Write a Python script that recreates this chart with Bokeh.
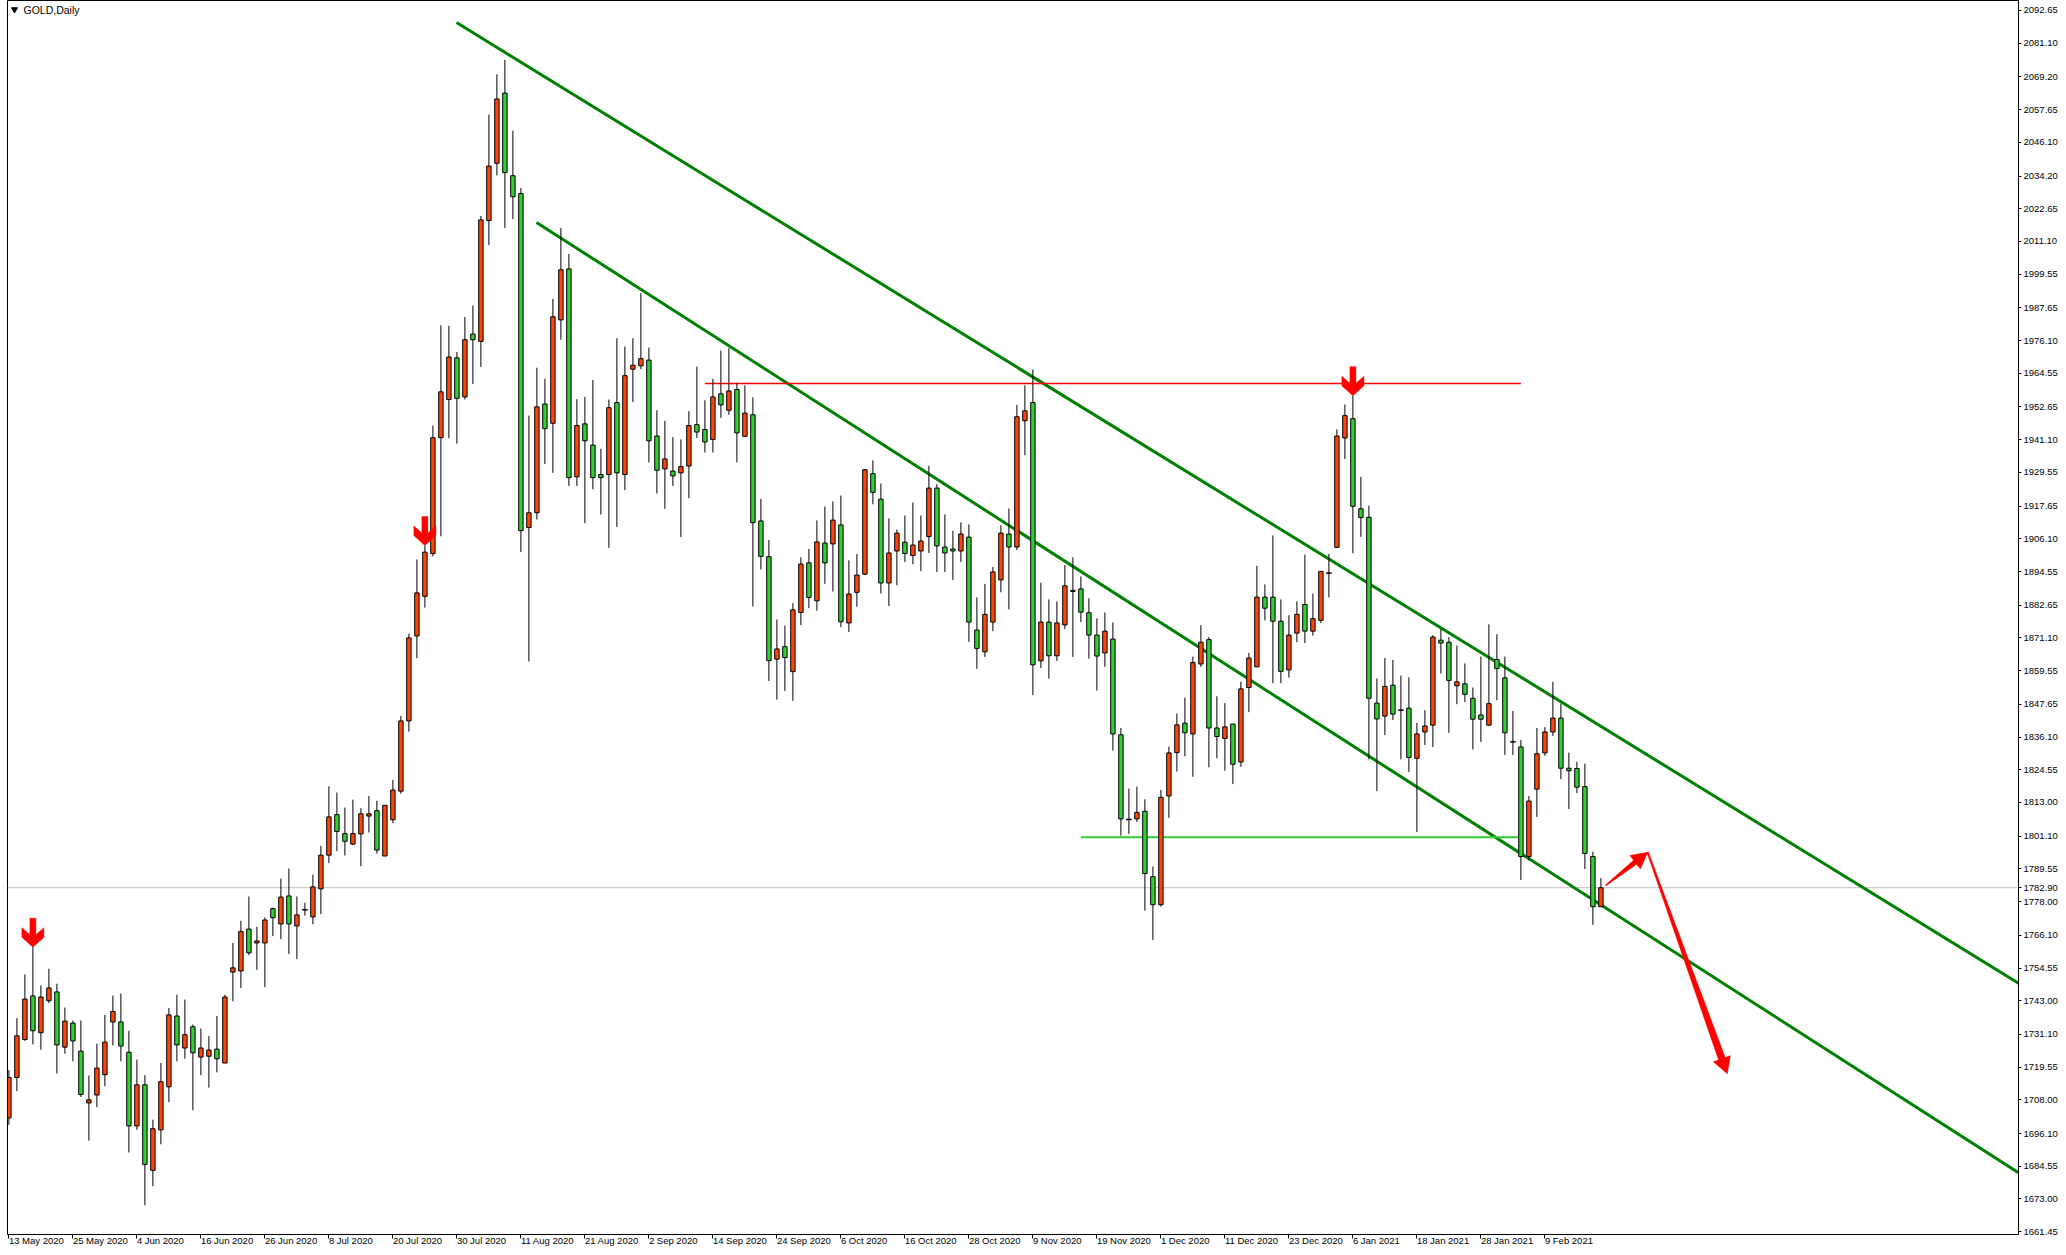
import math
from bokeh.plotting import figure
from bokeh.models import FixedTicker, PrintfTickFormatter, Range1d
from bokeh.embed import file_html
from bokeh.resources import INLINE
from bokeh.core.properties import value

# ---------------- data (GOLD daily, 13 May 2020 .. 18 Feb 2021) ----------------
OPEN = [1701.6, 1715.9, 1729.3, 1744.7, 1731.7, 1743.0, 1746.1, 1726.6, 1735.1, 1725.2,
        1706.9, 1709.7, 1716.9, 1735.5, 1735.5, 1724.8, 1698.8, 1713.3, 1683.1, 1697.4,
        1712.6, 1737.6, 1726.3, 1733.8, 1723.1, 1723.4, 1725.9, 1721.0, 1753.1, 1753.5,
        1768.3, 1763.4, 1763.4, 1775.5, 1770.1, 1780.0, 1769.4, 1775.1, 1772.6, 1782.5,
        1794.4, 1808.7, 1802.0, 1798.3, 1801.9, 1808.2, 1810.1, 1794.1, 1806.9, 1817.0,
        1841.8, 1871.8, 1885.8, 1900.9, 1941.8, 1955.3, 1970.0, 1956.2, 1978.4, 1975.8,
        2018.5, 2038.7, 2063.5, 2034.3, 2028.0, 1910.1, 1915.3, 1953.7, 1946.9, 1983.4,
        2001.4, 1928.0, 1946.7, 1939.2, 1928.8, 1928.8, 1954.2, 1928.8, 1966.0, 1967.2,
        1969.2, 1942.4, 1930.8, 1930.0, 1929.4, 1931.8, 1946.4, 1944.7, 1941.2, 1957.3,
        1951.5, 1958.8, 1942.3, 1949.9, 1912.4, 1899.8, 1863.6, 1868.0, 1859.2, 1880.1,
        1897.6, 1884.2, 1904.6, 1904.3, 1911.0, 1876.4, 1887.2, 1893.6, 1929.1, 1920.1,
        1890.5, 1901.8, 1904.9, 1900.2, 1901.8, 1906.9, 1924.0, 1903.2, 1902.5, 1901.8,
        1906.7, 1873.9, 1866.2, 1876.7, 1891.6, 1907.8, 1903.2, 1947.8, 1954.2, 1863.0,
        1876.7, 1864.8, 1875.7, 1887.9, 1888.4, 1880.0, 1872.1, 1865.8, 1870.7, 1836.9,
        1807.0, 1807.2, 1809.9, 1786.8, 1776.9, 1815.3, 1830.6, 1841.0, 1837.2, 1861.9,
        1870.5, 1839.3, 1835.6, 1840.7, 1827.3, 1853.6, 1860.9, 1885.5, 1885.5, 1877.0,
        1859.8, 1872.8, 1882.9, 1873.5, 1877.3, 1894.0, 1903.1, 1941.7, 1948.5, 1916.7,
        1913.7, 1848.1, 1843.5, 1854.4, 1845.6, 1846.3, 1828.6, 1837.9, 1840.3, 1870.3,
        1869.6, 1854.2, 1854.9, 1849.8, 1843.9, 1840.3, 1863.5, 1857.0, 1834.4, 1832.6,
        1793.9, 1817.7, 1830.5, 1837.9, 1842.8, 1825.1, 1825.0, 1818.6, 1793.9, 1776.2]
HIGH = [1718.5, 1736.8, 1752.3, 1761.9, 1748.4, 1754.3, 1749.0, 1740.6, 1736.0, 1736.0,
        1716.6, 1727.8, 1738.0, 1744.8, 1745.5, 1732.4, 1722.2, 1716.7, 1701.0, 1721.0,
        1740.4, 1745.1, 1743.4, 1734.6, 1733.2, 1730.6, 1737.6, 1745.1, 1763.4, 1771.2,
        1779.8, 1769.1, 1772.4, 1775.9, 1786.1, 1789.7, 1779.8, 1777.6, 1787.5, 1797.7,
        1818.7, 1816.5, 1811.2, 1814.0, 1811.0, 1815.3, 1813.6, 1812.0, 1821.0, 1843.6,
        1872.6, 1898.8, 1903.7, 1946.1, 1981.5, 1981.3, 1972.1, 1984.4, 1988.5, 2020.1,
        2055.9, 2070.1, 2075.2, 2050.2, 2030.0, 1949.6, 1966.5, 1962.6, 1990.8, 2015.9,
        2006.7, 1955.4, 1956.2, 1962.2, 1937.9, 1955.3, 1976.9, 1974.0, 1976.9, 1992.9,
        1973.6, 1951.5, 1947.8, 1942.0, 1941.2, 1951.2, 1966.9, 1955.0, 1962.6, 1972.6,
        1973.4, 1961.1, 1960.3, 1956.1, 1920.2, 1905.7, 1877.6, 1875.5, 1883.4, 1899.6,
        1902.5, 1912.6, 1917.5, 1919.3, 1921.4, 1898.5, 1900.7, 1930.7, 1933.8, 1925.6,
        1913.3, 1909.4, 1914.3, 1918.9, 1914.3, 1931.9, 1925.4, 1914.7, 1908.9, 1911.9,
        1911.2, 1885.4, 1890.2, 1896.2, 1910.9, 1916.8, 1953.4, 1960.3, 1965.9, 1890.6,
        1884.7, 1884.0, 1896.9, 1899.6, 1892.8, 1885.1, 1878.0, 1880.1, 1876.6, 1839.3,
        1817.9, 1818.6, 1814.1, 1790.4, 1817.4, 1832.7, 1844.4, 1850.0, 1864.5, 1875.6,
        1871.4, 1850.5, 1848.1, 1840.7, 1855.6, 1865.8, 1896.6, 1890.0, 1907.3, 1884.7,
        1879.1, 1884.0, 1900.5, 1886.8, 1894.6, 1900.8, 1944.7, 1953.5, 1956.6, 1928.0,
        1917.8, 1856.8, 1864.0, 1863.3, 1857.8, 1857.2, 1841.1, 1845.6, 1872.1, 1874.2,
        1871.4, 1868.4, 1862.1, 1853.6, 1864.5, 1875.9, 1872.4, 1864.5, 1845.3, 1835.1,
        1815.3, 1839.3, 1839.6, 1855.6, 1847.9, 1830.6, 1827.4, 1826.7, 1795.6, 1786.3]
LOW = [1699.2, 1711.1, 1728.8, 1727.6, 1725.7, 1742.2, 1717.3, 1724.3, 1721.6, 1709.0,
       1693.6, 1705.4, 1712.8, 1727.2, 1721.6, 1689.4, 1697.4, 1670.8, 1677.5, 1692.3,
       1707.2, 1721.6, 1722.5, 1704.3, 1716.7, 1712.3, 1717.7, 1721.0, 1742.8, 1747.5,
       1759.1, 1753.9, 1747.8, 1765.8, 1764.7, 1759.5, 1757.7, 1773.0, 1770.0, 1773.6,
       1791.6, 1795.8, 1794.3, 1797.9, 1790.5, 1802.4, 1795.0, 1794.1, 1805.7, 1816.1,
       1838.0, 1863.9, 1881.8, 1899.9, 1907.0, 1941.6, 1939.7, 1955.3, 1960.8, 1966.8,
       2009.8, 2034.4, 2015.8, 2019.0, 1901.4, 1862.8, 1912.9, 1932.5, 1929.4, 1976.4,
       1924.8, 1924.8, 1911.6, 1923.6, 1914.7, 1902.9, 1910.3, 1923.3, 1954.4, 1966.0,
       1933.1, 1922.1, 1916.7, 1924.8, 1906.7, 1920.4, 1941.7, 1936.6, 1936.6, 1948.8,
       1949.9, 1933.1, 1942.3, 1882.2, 1895.3, 1855.9, 1849.3, 1852.4, 1848.9, 1875.6,
       1881.6, 1880.7, 1890.2, 1887.5, 1874.9, 1873.2, 1882.1, 1893.3, 1918.3, 1886.8,
       1882.4, 1889.7, 1897.9, 1897.1, 1894.7, 1901.1, 1894.4, 1894.4, 1891.5, 1897.9,
       1869.7, 1860.2, 1864.4, 1873.5, 1887.2, 1881.2, 1902.1, 1935.6, 1850.9, 1860.5,
       1856.7, 1863.0, 1874.2, 1864.4, 1876.7, 1863.8, 1852.5, 1860.9, 1831.3, 1801.3,
       1801.9, 1806.1, 1774.8, 1764.4, 1776.2, 1807.6, 1823.9, 1829.3, 1822.1, 1860.9,
       1825.4, 1828.6, 1824.2, 1819.5, 1825.6, 1844.9, 1860.9, 1877.3, 1855.1, 1855.1,
       1857.1, 1869.6, 1869.3, 1871.9, 1876.3, 1885.4, 1902.8, 1934.3, 1901.0, 1906.8,
       1828.2, 1817.0, 1836.8, 1842.1, 1828.2, 1823.7, 1802.6, 1833.3, 1832.6, 1858.5,
       1837.6, 1847.7, 1848.4, 1831.7, 1834.4, 1840.0, 1849.1, 1829.8, 1829.8, 1785.6,
       1792.5, 1807.9, 1829.5, 1836.5, 1821.2, 1810.7, 1816.3, 1789.5, 1769.8, 1776.2]
CLOSE = [1715.9, 1730.6, 1743.6, 1732.4, 1744.3, 1747.5, 1727.4, 1735.8, 1728.8, 1709.9,
         1708.0, 1719.2, 1728.4, 1739.2, 1727.0, 1698.8, 1713.3, 1685.2, 1697.8, 1714.4,
         1738.0, 1727.4, 1731.0, 1724.6, 1726.3, 1725.6, 1722.5, 1744.3, 1754.6, 1767.4,
         1759.9, 1764.1, 1771.5, 1772.3, 1779.6, 1770.1, 1773.3, 1775.1, 1783.2, 1794.4,
         1807.9, 1802.8, 1799.3, 1802.0, 1809.0, 1809.0, 1796.2, 1812.0, 1817.4, 1841.8,
         1871.1, 1887.0, 1901.4, 1941.8, 1958.0, 1970.3, 1955.7, 1976.4, 1976.4, 2018.7,
         2037.7, 2061.4, 2035.4, 2026.9, 1909.0, 1915.3, 1952.7, 1945.0, 1984.5, 2001.1,
         1927.7, 1946.1, 1940.7, 1927.7, 1927.7, 1952.4, 1929.4, 1963.7, 1967.4, 1969.7,
         1940.7, 1930.3, 1934.3, 1928.3, 1931.6, 1946.1, 1943.8, 1940.3, 1956.2, 1953.4,
         1958.3, 1943.5, 1950.5, 1911.8, 1899.9, 1863.1, 1867.2, 1864.2, 1881.0, 1897.2,
         1885.4, 1905.0, 1897.6, 1912.7, 1876.8, 1886.6, 1893.3, 1930.5, 1922.5, 1890.5,
         1901.1, 1908.1, 1900.9, 1903.9, 1905.3, 1924.0, 1903.6, 1901.1, 1901.8, 1907.8,
         1876.7, 1867.4, 1879.4, 1894.4, 1908.1, 1903.2, 1949.2, 1951.3, 1861.6, 1876.7,
         1864.8, 1876.4, 1889.5, 1887.5, 1880.2, 1872.1, 1864.7, 1873.5, 1837.2, 1807.2,
         1807.0, 1809.5, 1787.9, 1776.9, 1814.8, 1830.5, 1840.4, 1837.6, 1862.4, 1869.6,
         1839.3, 1836.3, 1839.7, 1826.5, 1853.1, 1864.0, 1885.5, 1881.6, 1877.0, 1859.3,
         1872.1, 1879.4, 1873.5, 1877.9, 1894.6, 1894.0, 1942.4, 1949.6, 1917.6, 1913.6,
         1849.8, 1842.5, 1854.0, 1844.2, 1845.6, 1828.9, 1837.2, 1840.0, 1871.4, 1869.3,
         1856.1, 1855.6, 1851.2, 1842.4, 1842.4, 1847.9, 1860.3, 1837.6, 1834.4, 1793.9,
         1813.5, 1830.2, 1837.9, 1842.8, 1825.1, 1824.2, 1818.4, 1795.0, 1776.2, 1782.9]

DATE_TICK_BARS = [0, 8, 16, 24, 32, 40, 48, 56, 64, 72, 80, 88, 96, 104, 112, 120,
                  128, 136, 144, 152, 160, 168, 176, 184, 192]
DATE_LABELS = ["13 May 2020", "25 May 2020", "4 Jun 2020", "16 Jun 2020", "26 Jun 2020",
               "8 Jul 2020", "20 Jul 2020", "30 Jul 2020", "11 Aug 2020", "21 Aug 2020",
               "2 Sep 2020", "14 Sep 2020", "24 Sep 2020", "6 Oct 2020", "16 Oct 2020",
               "28 Oct 2020", "9 Nov 2020", "19 Nov 2020", "1 Dec 2020", "11 Dec 2020",
               "23 Dec 2020", "6 Jan 2021", "18 Jan 2021", "28 Jan 2021", "9 Feb 2021"]
PRICE_TICKS = [2092.65, 2081.10, 2069.20, 2057.65, 2046.10, 2034.20, 2022.65, 2011.10,
               1999.55, 1987.65, 1976.10, 1964.55, 1952.65, 1941.10, 1929.55, 1917.65,
               1906.10, 1894.55, 1882.65, 1871.10, 1859.55, 1847.65, 1836.10, 1824.55,
               1813.00, 1801.10, 1789.55, 1778.00, 1766.10, 1754.55, 1743.00, 1731.10,
               1719.55, 1708.00, 1696.10, 1684.55, 1673.00, 1661.45]
LAST_PRICE = 1782.90

# drawn objects (bar index, price)
UPPER_CHANNEL_BARS = [55.95, 251.2]
UPPER_CHANNEL_PRICES = [2088.4, 1749.2]
LOWER_CHANNEL_BARS = [65.95, 251.2]
LOWER_CHANNEL_PRICES = [2017.8, 1682.3]
RESISTANCE_BARS = [87.0, 189.0]
RESISTANCE_PRICE = 1960.9
SUPPORT_BARS = [134.0, 189.0]
SUPPORT_PRICE = 1800.7
SIGNAL_BARS = [3, 52, 168]
PATH_BARS = [199.6, 204.85, 214.8]
PATH_PRICES = [1783.7, 1795.4, 1717.2]

assert len(OPEN) == len(HIGH) == len(LOW) == len(CLOSE) == 200

# ---------------- figure ----------------
X0, X1 = -0.175, 251.2
Y0, Y1 = 1660.45, 2096.18
FW, FH = 2011, 1234
SX = FW / (X1 - X0)
SY = FH / (Y1 - Y0)

p = figure(frame_width=FW, frame_height=FH, x_range=Range1d(X0, X1), y_range=Range1d(Y0, Y1),
           output_backend="svg", toolbar_location=None, y_axis_location="right",
           min_border_left=7, min_border_top=0, min_border_right=0, min_border_bottom=0,
           background_fill_color="white", border_fill_color="white",
           outline_line_color="black", outline_line_width=1)
p.xgrid.visible = False
p.ygrid.visible = False

FONT = "Liberation Sans"
p.xaxis.ticker = FixedTicker(ticks=DATE_TICK_BARS)
p.xaxis.major_label_overrides = {b: l for b, l in zip(DATE_TICK_BARS, DATE_LABELS)}
p.xaxis.major_label_orientation = -0.0001
# price scale, including the last-price mark
p.yaxis.ticker = FixedTicker(ticks=sorted(PRICE_TICKS + [LAST_PRICE]))
p.yaxis.formatter = PrintfTickFormatter(format="%.2f")
for ax in (p.xaxis[0], p.yaxis[0]):
    ax.major_label_text_font = FONT
    ax.major_label_text_font_size = "9.5px"
    ax.major_label_text_color = "black"
    ax.axis_line_color = "black"
    ax.major_tick_line_color = "black"
    ax.minor_tick_line_color = None
    ax.major_tick_in = 0
p.xaxis.major_tick_out = 4
p.xaxis.major_label_standoff = 2
p.yaxis.major_tick_out = 3
p.yaxis.major_label_standoff = 2

# current price line
p.line([X0, X1], [LAST_PRICE, LAST_PRICE], line_color="#C0C0C0", line_width=1)

# trend channel + levels
p.line(UPPER_CHANNEL_BARS, UPPER_CHANNEL_PRICES, line_color="#008000", line_width=3)
p.line(LOWER_CHANNEL_BARS, LOWER_CHANNEL_PRICES, line_color="#008000", line_width=3)
p.line(RESISTANCE_BARS, [RESISTANCE_PRICE] * 2, line_color="#FF0000", line_width=1.5)
p.line(SUPPORT_BARS, [SUPPORT_PRICE] * 2, line_color="#32CD32", line_width=2)

# candles
idx = list(range(len(OPEN)))
p.segment(x0=idx, y0=LOW, x1=idx, y1=HIGH, line_color="black", line_width=1)
up = [i for i in idx if CLOSE[i] > OPEN[i]]
dn = [i for i in idx if CLOSE[i] < OPEN[i]]
eq = [i for i in idx if CLOSE[i] == OPEN[i]]
p.vbar(x=up, width=0.55, bottom=[OPEN[i] for i in up], top=[CLOSE[i] for i in up],
       fill_color="#FF4500", line_color="black", line_width=1)
p.vbar(x=dn, width=0.55, bottom=[CLOSE[i] for i in dn], top=[OPEN[i] for i in dn],
       fill_color="#32CD32", line_color="black", line_width=1)
p.segment(x0=[i - 0.35 for i in eq], y0=[OPEN[i] for i in eq],
          x1=[i + 0.35 for i in eq], y1=[CLOSE[i] for i in eq], line_color="black", line_width=1.5)

# red signal arrows (shape in pixels, tip on the bar high)
ARROW_SHAPE = [(0, 0), (11, 10), (11, 19.5), (3, 12.5), (3, 29), (-3, 29), (-3, 12.5),
               (-11, 19.5), (-11, 10)]
axs, ays = [], []
for b in SIGNAL_BARS:
    axs.append([b + dx / SX for dx, dy in ARROW_SHAPE])
    ays.append([HIGH[b] + dy / SY for dx, dy in ARROW_SHAPE])
p.patches(axs, ays, fill_color="#FF0000", line_color="#FF0000", line_width=0.5)


def tapered(b0, p0, b1, p1, w0, w1, hl, hw):
    x0, y0 = (b0 - X0) * SX, (p0 - Y0) * SY
    x1, y1 = (b1 - X0) * SX, (p1 - Y0) * SY
    L = math.hypot(x1 - x0, y1 - y0)
    ux, uy = (x1 - x0) / L, (y1 - y0) / L
    nx, ny = -uy, ux
    bx, by = x1 - ux * hl, y1 - uy * hl
    pts = [(x0 + nx * w0 / 2, y0 + ny * w0 / 2), (bx + nx * w1 / 2, by + ny * w1 / 2),
           (bx + nx * hw / 2, by + ny * hw / 2), (x1, y1),
           (bx - nx * hw / 2, by - ny * hw / 2), (bx - nx * w1 / 2, by - ny * w1 / 2),
           (x0 - nx * w0 / 2, y0 - ny * w0 / 2)]
    return [X0 + px / SX for px, py in pts], [Y0 + py / SY for px, py in pts]


t1 = tapered(PATH_BARS[0], PATH_PRICES[0], PATH_BARS[1], PATH_PRICES[1], 1, 5, 16, 17)
t2 = tapered(PATH_BARS[1], PATH_PRICES[1], PATH_BARS[2], PATH_PRICES[2], 1.5, 7, 16, 18)
p.patches([t1[0], t2[0]], [t1[1], t2[1]], fill_color="#FF0000", line_color="#FF0000",
          line_width=0.5)

# title
p.scatter([X0 + 7 / SX], [Y1 - 9 / SY], marker="inverted_triangle", size=6,
          fill_color="black", line_color="black")
p.text([X0 + 16 / SX], [Y1 - 3 / SY], text=["GOLD,Daily"], text_baseline="top",
       text_align="left", text_font=value(FONT), text_font_size="10.5px", text_color="black")

open("out.html", "w").write(file_html(p, INLINE))
